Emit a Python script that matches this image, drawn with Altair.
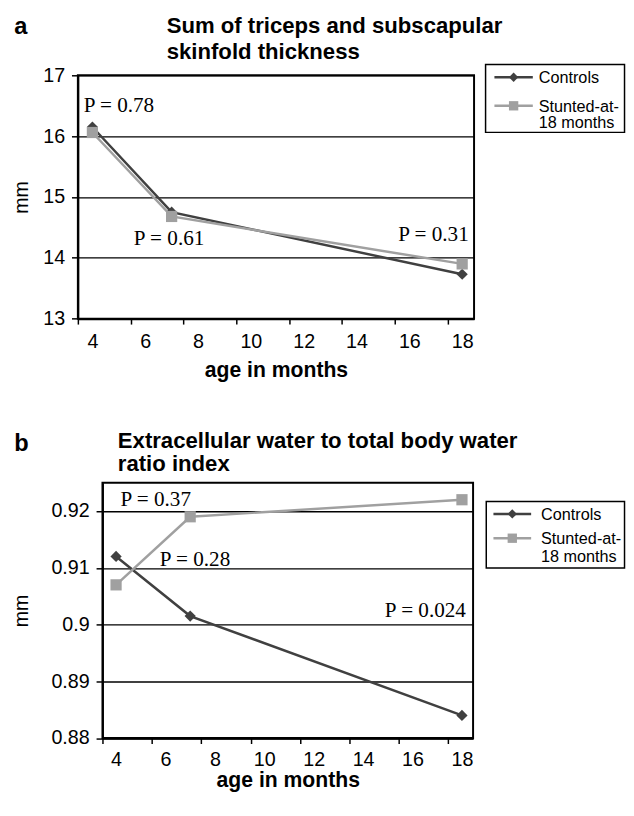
import altair as alt
import pandas as pd

# ---------------- data ----------------
ages = [4, 7, 18]
series_names = ["Controls", "Stunted-at-18 months"]

a_controls = [16.15, 14.75, 13.73]
a_stunted = [16.06, 14.68, 13.90]
b_controls = [0.912, 0.9015, 0.884]
b_stunted = [0.907, 0.919, 0.922]

a_p_text = ["P = 0.78", "P = 0.61", "P = 0.31"]
a_p_age = [3.67, 5.57, 15.58]
a_p_val = [16.49, 14.31, 14.37]
b_p_text = ["P = 0.37", "P = 0.28", "P = 0.024"]
b_p_age = [4.18, 5.77, 14.88]
b_p_val = [0.9220, 0.9114, 0.9024]

a_title = ["Sum of triceps and subscapular", "skinfold thickness"]
b_title = ["Extracellular water to total body water", "ratio index"]
a_yticks = [13, 14, 15, 16, 17]
b_yticks = [0.88, 0.89, 0.90, 0.91, 0.92]
x_ticks = [4, 6, 8, 10, 12, 14, 16, 18]
x_domain = [3.45, 18.45]

SANS = "Liberation Sans"
SERIF = "Liberation Serif"
DARK = "#404040"
LIGHT = "#a0a0a0"


def one(value, col="t"):
    return pd.DataFrame({col: [value]})


def panel(controls, stunted, p_text, p_age, p_val, ydom, yticks, yfmt,
          title, title_x, title_y, letter, letter_x, letter_y,
          shift, plot_w, height, ytitle_pad, xlabel_pad, xtitle_pad, leg):
    """shift: how far the plot frame sits to the right of the panel origin."""
    rows = []
    for s, vals in zip(series_names, [controls, stunted]):
        for a, v in zip(ages, vals):
            rows.append({"series": s, "age": a, "value": v})
    df = pd.DataFrame(rows)
    pdf = pd.DataFrame({"label": p_text, "age": p_age, "value": p_val})

    color_scale = alt.Scale(domain=series_names, range=[DARK, LIGHT])
    shape_scale = alt.Scale(domain=series_names, range=["diamond", "square"])

    tick_off = 0.55 * plot_w / 15.0
    xaxis = alt.Axis(
        values=x_ticks, format="d", grid=False, labelFlush=False,
        tickOffset=-tick_off, labelOffset=tick_off,
        domainColor="black", domainWidth=2, tickColor="black", tickWidth=1.5,
        tickSize=5.5, labelFont=SANS, labelFontSize=20, labelColor="black",
        labelPadding=xlabel_pad, title="age in months", titleFont=SANS,
        titleFontSize=21.5, titleFontWeight="bold", titleColor="black",
        titlePadding=xtitle_pad,
    )
    yaxis = alt.Axis(
        values=yticks, format=yfmt, grid=True, gridColor="black", offset=-shift,
        gridWidth=1.3, gridOpacity=1, domainColor="black", domainWidth=2,
        tickColor="black", tickWidth=1.5, tickSize=6.5, labelFont=SANS,
        labelFontSize=20, labelColor="black", labelPadding=7, title="mm",
        titleFont=SANS, titleFontSize=20, titleFontWeight="normal",
        titleColor="black", titlePadding=ytitle_pad,
    )
    xscale = alt.Scale(domain=x_domain, range=[shift, shift + plot_w], nice=False, zero=False)
    yscale = alt.Scale(domain=ydom, nice=False, zero=False)
    x = alt.X("age:Q", scale=xscale, axis=xaxis)
    y = alt.Y("value:Q", scale=yscale, axis=yaxis)

    base = alt.Chart(df)
    frame = alt.Chart(one(0)).mark_rect(
        fillOpacity=0, stroke="black", strokeWidth=2
    ).encode(
        x=alt.datum(x_domain[0], scale=xscale, axis=xaxis),
        x2=alt.datum(x_domain[1]),
        y=alt.datum(ydom[0], scale=yscale, axis=yaxis),
        y2=alt.datum(ydom[1]),
    )
    lines = base.mark_line(strokeWidth=2.5).encode(
        x=x, y=y, color=alt.Color("series:N", scale=color_scale, legend=None),
    )
    points = base.mark_point(filled=True, size=130, opacity=1).encode(
        x=x, y=y,
        color=alt.Color("series:N", scale=color_scale, legend=None),
        shape=alt.Shape("series:N", scale=shape_scale, legend=None),
    )
    ptexts = alt.Chart(pdf).mark_text(
        font=SERIF, fontSize=21.5, align="left", baseline="middle", color="black"
    ).encode(x=x, y=y, text="label:N")

    layers = [frame, lines, points, ptexts]

    # panel letter and two-line heading
    layers.append(alt.Chart(one(letter)).mark_text(
        font=SANS, fontSize=24, fontWeight="bold", align="left",
        baseline="alphabetic", color="black"
    ).encode(x=alt.value(shift + letter_x), y=alt.value(letter_y), text="t:N"))
    for line, ty in zip(title, title_y):
        layers.append(alt.Chart(one(line)).mark_text(
            font=SANS, fontSize=22.5, fontWeight="bold", align="left",
            baseline="alphabetic", color="black"
        ).encode(x=alt.value(shift + title_x), y=alt.value(ty), text="t:N"))

    # boxed legend: line with marker, then the series name
    bx1, bx2, by1, by2 = leg["box"]
    layers.append(alt.Chart(one(0)).mark_rect(
        fill="white", stroke="black", strokeWidth=1.5
    ).encode(x=alt.value(shift + bx1), x2=alt.value(shift + bx2),
             y=alt.value(by1), y2=alt.value(by2)))
    sx1, sx2 = leg["sym"]
    for s, ry in zip(series_names, leg["rows"]):
        sdf = one(s, "series")
        layers.append(alt.Chart(sdf).mark_rule(strokeWidth=2.5).encode(
            x=alt.value(shift + sx1), x2=alt.value(shift + sx2), y=alt.value(ry),
            color=alt.Color("series:N", scale=color_scale, legend=None)))
        layers.append(alt.Chart(sdf).mark_point(filled=True, opacity=1, size=leg["msize"]).encode(
            x=alt.value(shift + (sx1 + sx2) / 2), y=alt.value(ry),
            color=alt.Color("series:N", scale=color_scale, legend=None),
            shape=alt.Shape("series:N", scale=shape_scale, legend=None)))
        layers.append(alt.Chart(sdf).transform_calculate(
            lab="replace(datum.series, 'at-', 'at-\\n')"
        ).mark_text(
            font=SANS, fontSize=16.5, align="left", baseline="alphabetic",
            color="black", lineBreak="\n", lineHeight=leg["lh"]
        ).encode(x=alt.value(shift + leg["tx"]), y=alt.value(ry + 6), text="lab:N"))

    return alt.layer(*layers).properties(width=shift + plot_w, height=height)


legend_a = {"box": [414.3, 555.5, -11, 58], "sym": [423.3, 462.3],
            "rows": [2, 31], "tx": 468.3, "lh": 16.5, "msize": 90}
legend_b = {"box": [390, 530.5, 19, 86.7], "sym": [397.3, 435.6],
            "rows": [31.7, 56.4], "tx": 445.6, "lh": 18.6, "msize": 90}

chart_a = panel(a_controls, a_stunted, a_p_text, a_p_age, a_p_val,
                [13, 17], a_yticks, "d", a_title, 90.3, [-43.3, -16.2],
                "a", -64.7, -42, 0, 402.6, 247.3, 11, 8, 8, legend_a)
# panel b's frame sits 25 px further right than panel a's, as in the reference
chart_b = panel(b_controls, b_stunted, b_p_text, b_p_age, b_p_val,
                [0.88, 0.925], b_yticks, "~g", b_title, 15.6, [-35.3, -11.6],
                "b", -89.7, -32.3, 25, 376.6, 259.5, 20, 6, 1, legend_b)

chart = alt.vconcat(chart_a, chart_b, spacing=49).resolve_scale(
    color="independent", shape="independent"
).properties(
    padding={"left": 3, "top": 0, "right": 0, "bottom": 0}
).configure_view(strokeWidth=0)

chart.save("out.html", embed_options={"renderer": "svg", "actions": False})
